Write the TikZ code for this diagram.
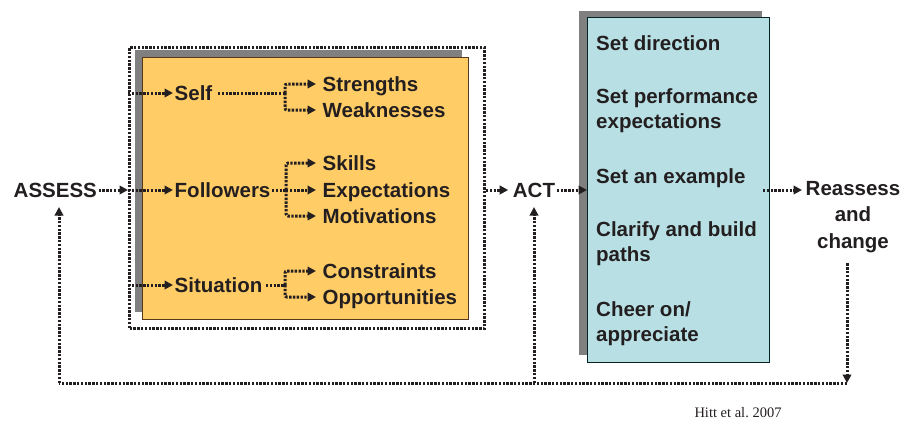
\documentclass[tikz,border=0pt]{standalone}
\usepackage{fontspec}
\setmainfont{Liberation Sans}
\newfontfamily\citefont{Liberation Serif}
\usetikzlibrary{arrows.meta,positioning}

\definecolor{boxorange}{RGB}{255,204,102}
\definecolor{boxblue}{RGB}{184,224,228}
\definecolor{shadegray}{RGB}{128,128,128}
\definecolor{inkdark}{RGB}{35,31,32}

\tikzset{
  lbl/.style={font=\bfseries\fontsize{20.5}{25}\selectfont, text=inkdark,
    inner sep=1.5pt, text height=14.7pt, text depth=0pt},
  itemtext/.style={font=\bfseries\fontsize{20.5}{25}\selectfont, text=inkdark,
    inner sep=0pt, align=left, anchor=west},
  dots/.style={draw=inkdark, line width=3pt, dash pattern=on 2.4pt off 1.4pt},
  dotarrow/.style={dots, -{Triangle[length=8.5pt,width=8.5pt]}},
}

\begin{document}
\begin{tikzpicture}[x=1pt,y=-1pt]
  \useasboundingbox (0,0) rectangle (904,423);

  % assess side
  \node[lbl, anchor=west] (assess) at (12,190) {ASSESS};

  \fill[shadegray] (135,50) rectangle (462,312);
  \filldraw[fill=boxorange, draw=black!55!brown, line width=1pt] (142,57) rectangle (468,319);
  \node[dots, draw, minimum width=355, minimum height=281, anchor=north west] (frame) at (128,46) {};

  \node[lbl, anchor=west] (self) at (173,93) {Self};
  \node[lbl, anchor=west] (followers) at (173,190) {Followers};
  \node[lbl, anchor=west] (situation) at (173,285) {Situation};

  \node[lbl, anchor=west] (strengths) at (321,84) {Strengths};
  \node[lbl, anchor=west] (weaknesses) at (321,110) {Weaknesses};
  \node[lbl, anchor=west] (skills) at (321,163) {Skills};
  \node[lbl, anchor=west] (expectations) at (321,190) {Expectations};
  \node[lbl, anchor=west] (motivations) at (321,216) {Motivations};
  \node[lbl, anchor=west] (constraints) at (321,271) {Constraints};
  \node[lbl, anchor=west] (opportunities) at (321,297) {Opportunities};

  \coordinate (selfbr) at (285,93);
  \coordinate (follbr) at (286,190);
  \coordinate (sitbr) at (285,285);

  \draw[dotarrow] (assess.east) -- (frame.west |- assess);
  \draw[dotarrow] (frame.west |- self) -- (self.west);
  \draw[dotarrow] (frame.west |- followers) -- (followers.west);
  \draw[dotarrow] (frame.west |- situation) -- (situation.west);

  \draw[dots] ([xshift=4pt]self.east) -- (selfbr);
  \draw[dotarrow, rounded corners=2pt] (selfbr) |- ([xshift=-5pt]strengths.west);
  \draw[dotarrow, rounded corners=2pt] (selfbr) |- ([xshift=-5pt]weaknesses.west);

  \draw[dots] (followers.east) -- (follbr);
  \draw[dotarrow, rounded corners=2pt] (follbr) |- ([xshift=-5pt]skills.west);
  \draw[dotarrow] (follbr) -- ([xshift=-5pt]expectations.west);
  \draw[dotarrow, rounded corners=2pt] (follbr) |- ([xshift=-5pt]motivations.west);

  \draw[dots] ([xshift=2pt]situation.east) -- (sitbr);
  \draw[dotarrow, rounded corners=2pt] (sitbr) |- ([xshift=-5pt]constraints.west);
  \draw[dotarrow, rounded corners=2pt] (sitbr) |- ([xshift=-5pt]opportunities.west);

  % act side
  \node[lbl] (act) at (534,190) {ACT};
  \draw[dotarrow] (frame.east |- act) -- ([xshift=-3pt]act.west);

  \fill[shadegray] (579,11) rectangle (762,355);
  \node[draw=black!70!teal, fill=boxblue, line width=1pt, minimum width=182,
        minimum height=345, anchor=north west] (blue) at (587,17) {};
  \draw[dotarrow] (act.east) -- (blue.west |- act);

  \node[itemtext] (direction) at (596,43) {Set direction};
  \node[itemtext] (performance) at (596,111) {Set performance\\expectations};
  \node[itemtext] (example) at (596,178) {Set an example};
  \node[itemtext] (clarify) at (596,244) {Clarify and build\\paths};
  \node[itemtext] (cheer) at (596,324) {Cheer on/\\appreciate};

  \node[lbl, align=center, text height=, text depth=, font=\bfseries\fontsize{20.5}{26.5}\selectfont]
       (reassess) at (853,217) {Reassess\\and\\change};
  \draw[dotarrow] ([xshift=-7pt]blue.east |- act) -- ([xshift=-2pt]reassess.west |- act);

  % loop back
  \coordinate (loopR) at (847,383);
  \coordinate (loopL) at (59,383);
  \draw[dotarrow, shorten <=9pt] (reassess.south -| loopR) -- (loopR);
  \draw[dots] (loopR) -- (loopL);
  \draw[dotarrow, shorten >=8pt] (loopL) -- (assess.south -| loopL);
  \draw[dotarrow, shorten >=8pt] (act.south |- loopL) -- (act.south);

  \node[font=\citefont\fontsize{14.5}{16}\selectfont, text=inkdark] (cite) at (738,413) {Hitt et al.\ 2007};
\end{tikzpicture}
\end{document}
